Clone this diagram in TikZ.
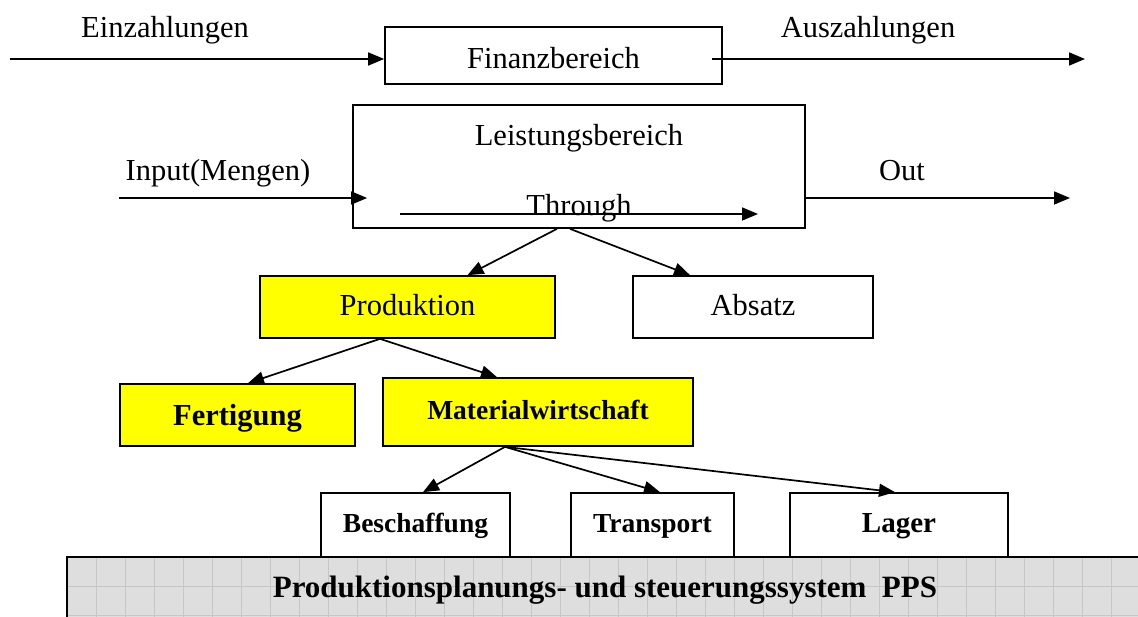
\documentclass[tikz,border=0pt]{standalone}
\usepackage{fontspec}
\setmainfont{Liberation Serif}
\usetikzlibrary{arrows.meta,calc}
\definecolor{boxyellow}{RGB}{255,255,0}
\definecolor{barfill}{RGB}{222,222,222}
\definecolor{gridc}{RGB}{198,198,198}
\begin{document}
\begin{tikzpicture}[x=1pt,y=-1pt,
  txt/.style={font=\fontsize{30.5}{36}\selectfont, inner sep=0pt},
  btxt/.style={font=\fontsize{#1}{34}\selectfont\bfseries, inner sep=0pt},
  btxt/.default=27.5,
  box/.style={draw, line width=1.7pt, inner sep=0pt, text depth=0pt},
  ybox/.style={box, fill=boxyellow},
  arr/.style={line width=1.7pt, -{Triangle[length=16pt,width=13pt]}},
]
\useasboundingbox (0,0) rectangle (1138,617);
\clip (0,0) rectangle (1138,617);

% PPS bar
\node[anchor=north west, fill=barfill, minimum width=1120pt, minimum height=90pt, inner sep=0pt] (ppsbar) at (67,557) {};
\begin{scope}
  \clip (ppsbar.north west) rectangle (ppsbar.south east);
  \draw[gridc, line width=0.9pt, shift={(67,557)}, step=29pt] (0,0) grid (1120,90);
\end{scope}
\draw[line width=1.7pt] (ppsbar.north east) -- (ppsbar.north west) -- (ppsbar.south west);
\node[btxt=31, anchor=base] (pps) at (605,597) {Produktionsplanungs- und steuerungssystem\ \ PPS};

% boxes
\node[box, txt, minimum width=337pt, minimum height=57pt, text height=26pt] (fin) at (553.5,55.5) {Finanzbereich};
\node[box, minimum width=452pt, minimum height=123pt] (leist) at (579,166.5) {};
\node[txt, anchor=base] (leistl) at (579,146) {Leistungsbereich};
\node[txt, anchor=base] (thrl) at (579,216) {Through};

\node[ybox, txt, minimum width=295pt, minimum height=62pt, text height=18pt] (prod) at (407.5,307) {Produktion};
\node[box, txt, minimum width=240pt, minimum height=62pt, text height=18pt] (abs) at (753,307) {Absatz};

\node[ybox, btxt=30.5, minimum width=235pt, minimum height=62pt, text height=21pt] (fert) at (237.5,415) {Fertigung};
\node[ybox, btxt=27.5, minimum width=310pt, minimum height=68pt, text height=16pt] (mw) at (538,412) {Materialwirtschaft};

\node[box, btxt=27.5, fill=white, minimum width=189pt, minimum height=64pt, text height=14pt] (besch) at (415.5,525) {Beschaffung};
\node[box, btxt=27.5, fill=white, minimum width=163pt, minimum height=64pt, text height=14pt] (trans) at (652.5,525) {Transport};
\node[box, btxt=29, fill=white, minimum width=218pt, minimum height=64pt, text height=14pt] (lager) at (899,525) {Lager};

% labels
\node[txt, anchor=base] (einl) at (165,38) {Einzahlungen};
\node[txt, anchor=base] (ausl) at (868,38) {Auszahlungen};
\node[txt, anchor=base] (inl) at (218,181) {Input(Mengen)};
\node[txt, anchor=base] (outl) at (902,181) {Out};

% free ends
\coordinate (ein0) at (10,59);
\coordinate (aus1) at (1085,59);
\coordinate (in0) at (119,198);
\coordinate (out1) at (1070,198);
\coordinate (thr0) at (400,214);
\coordinate (thr1) at (758,214);

% connectors
\draw[arr] (ein0) -- (fin.west |- ein0);
\draw[arr] ($(fin.east |- aus1)+(-11,0)$) -- (aus1);
\draw[arr] (in0) -- ($(leist.west |- in0)+(15,0)$);
\draw[arr] (leist.east |- out1) -- (out1);
\draw[arr] (thr0) -- (thr1);

\draw[arr] ([xshift=-22pt]leist.south) -- ([xshift=60pt]prod.north);
\draw[arr] ([xshift=-9pt]leist.south) -- ([xshift=-63pt]abs.north);
\draw[arr] ([xshift=-27.5pt]prod.south) -- ([xshift=10.5pt]fert.north);
\draw[arr] ([xshift=-27.5pt]prod.south) -- ([xshift=-41pt]mw.north);
\draw[arr] ([xshift=-33pt]mw.south) -- ([xshift=7.5pt]besch.north);
\draw[arr] ([xshift=-33pt]mw.south) -- ([xshift=7.5pt]trans.north);
\draw[arr] ([xshift=-33pt]mw.south) -- ([xshift=-4pt]lager.north);
\end{tikzpicture}
\end{document}
